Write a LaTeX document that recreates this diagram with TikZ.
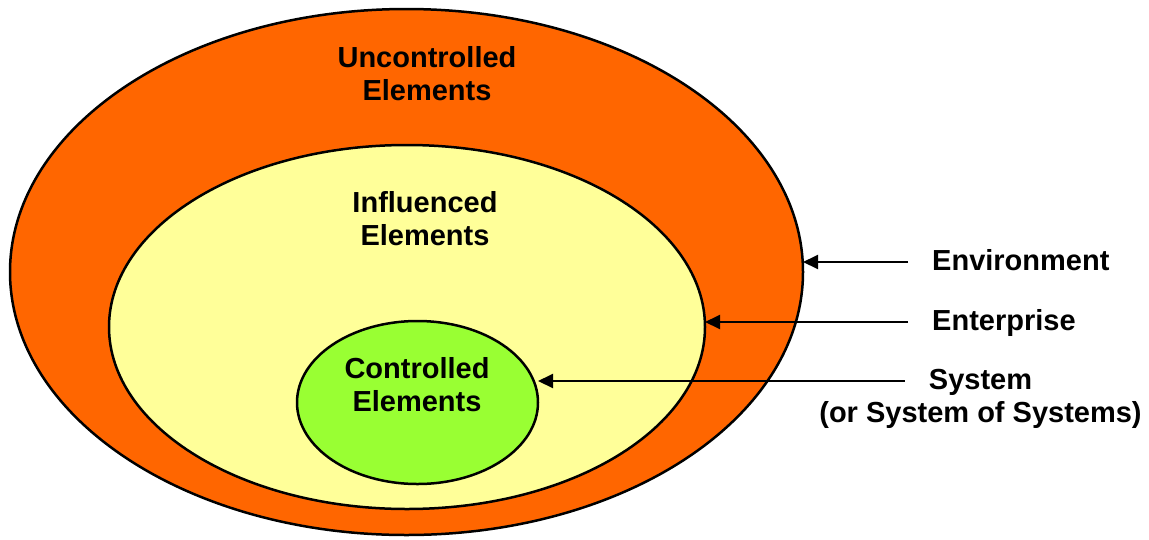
\documentclass[tikz,border=0pt]{standalone}
\usepackage{fontspec}
\setmainfont{Liberation Sans}
\usepackage{tikz}
\usetikzlibrary{shapes.geometric, arrows.meta}
\definecolor{RingOrange}{HTML}{FF6600}
\definecolor{RingYellow}{HTML}{FFFF99}
\definecolor{RingGreen}{HTML}{99FF33}

\tikzset{
    ring/.style={ellipse, draw, line width=2.5pt, inner sep=0pt, outer sep=0pt},
    lbl/.style={font=\bfseries\fontsize{29}{33}\selectfont, inner sep=0pt, text height=21pt, text depth=5pt},
    pointer/.style={-{Triangle[length=15pt, width=14pt]}, line width=2pt, shorten <=24pt}
}

\begin{document}
\begin{tikzpicture}[x=1pt, y=-1pt]
        \useasboundingbox (0,0) rectangle (1149,539);

        % Draw the three nested rings
        \node[ring, fill=RingOrange, minimum width=793pt, minimum height=526pt] (outer) at (406.5,272) {};
        \node[ring, fill=RingYellow, minimum width=596pt, minimum height=364pt] (middle) at (407,327) {};
        \node[ring, fill=RingGreen, minimum width=241pt, minimum height=163pt] (inner) at (417.5,402.5) {};

        % Text inside the rings
        \node[lbl, align=center, text height=, text depth=] (uncontrolled) at (427,73.5) {Uncontrolled\\Elements};
        \node[lbl, align=center, text height=, text depth=] (influenced) at (425,218.5) {Influenced\\Elements};
        \node[lbl, align=center, text height=, text depth=] (controlled) at (417,384.5) {Controlled\\Elements};

        % Labels on the right
        \node[lbl, anchor=west] (env) at (932,262) {Environment};
        \node[lbl, anchor=west] (ent) at (932,322) {Enterprise};
        \node[lbl] (sys) at (980.5,381) {System};
        \node[lbl] (sysnote) at (980.5,414) {(or System of Systems)};

        % Arrows from the labels to the rings
        \foreach \lbl/\ring in {env/outer, ent/middle, sys/inner} {
            \draw[pointer] (\lbl.west) -- (\lbl.west -| \ring.east);
        }
    \end{tikzpicture}
\end{document}
